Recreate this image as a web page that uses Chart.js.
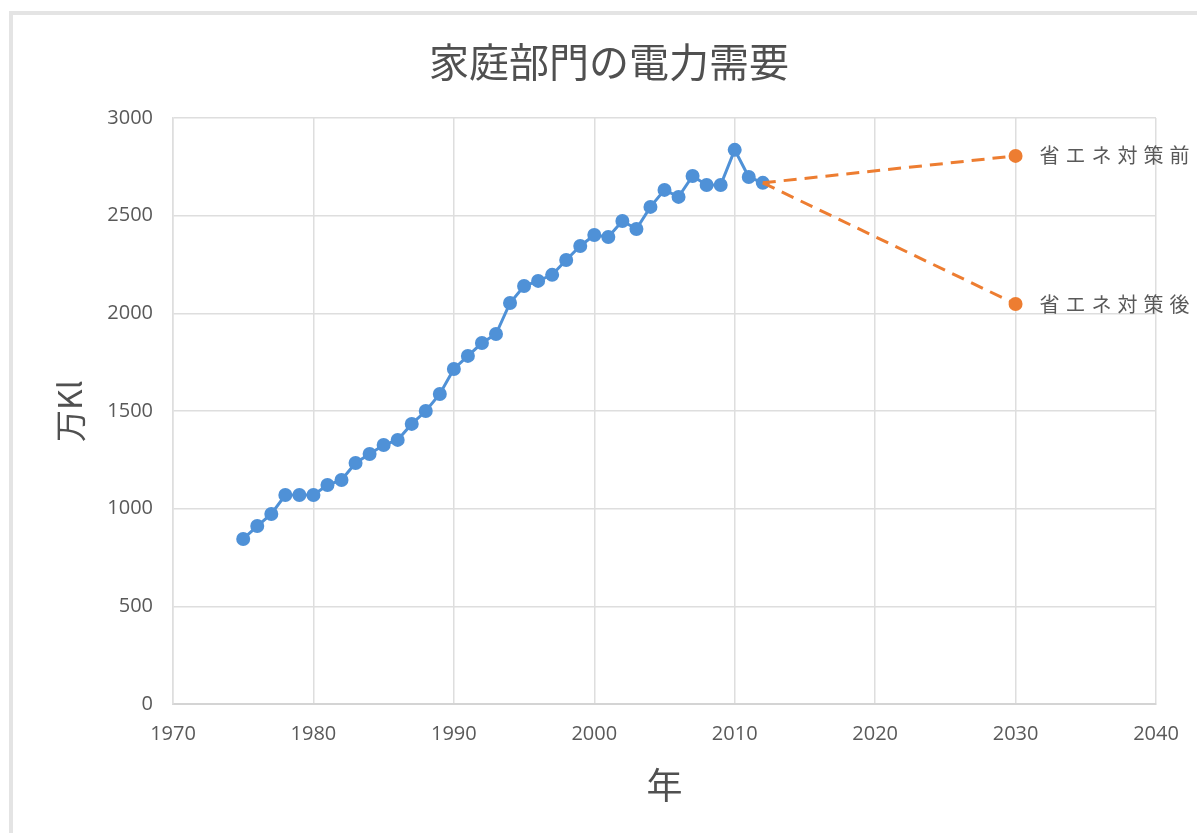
<!DOCTYPE html>
<html lang="ja">
<head>
<meta charset="utf-8">
<title>家庭部門の電力需要</title>
<script src="https://cdn.jsdelivr.net/npm/chart.js@4/dist/chart.umd.min.js"></script>
<style>
  html, body { margin: 0; padding: 0; background: #fff; overflow: hidden; }
  #frame {
    position: absolute; left: 9px; top: 11px; width: 1200px; height: 840px;
    border-top: 4px solid #e4e4e4; border-left: 4px solid #e4e4e4;
  }
  #demandChart { position: absolute; left: 0; top: 0; }
</style>
</head>
<body>
<div id="frame"></div>
<canvas id="demandChart" width="1197" height="833"></canvas>
<script>
// --- Data ---
const years = [1975, 1976, 1977, 1978, 1979, 1980, 1981, 1982, 1983, 1984,
               1985, 1986, 1987, 1988, 1989, 1990, 1991, 1992, 1993, 1994,
               1995, 1996, 1997, 1998, 1999, 2000, 2001, 2002, 2003, 2004,
               2005, 2006, 2007, 2008, 2009, 2010, 2011, 2012];
const demand = [845, 911, 973, 1070, 1070, 1070, 1121, 1147, 1234, 1280,
                1326, 1352, 1434, 1500, 1587, 1715, 1782, 1848, 1894, 2053,
                2140, 2166, 2197, 2273, 2345, 2401, 2391, 2473, 2432, 2545,
                2632, 2596, 2703, 2657, 2657, 2837, 2698, 2668];

const forecastYears = [2012, 2030];
const beforeSaving = [2668, 2806];   // 省エネ対策前
const afterSaving = [2668, 2048];    // 省エネ対策後
const forecastLabels = ['省エネ対策前', '省エネ対策後'];

const xTicks = [1970, 1980, 1990, 2000, 2010, 2020, 2030, 2040];
const yTicks = [0, 500, 1000, 1500, 2000, 2500, 3000];

const textColor = '#595959';
const gridColor = '#dedede';
const blue = '#4f91d7';
const orange = '#ed7d31';

const toPoints = (xs, ys) => xs.map((x, i) => ({ x: x, y: ys[i] }));

// labels drawn to the right of the 2030 points
const endLabels = {
    id: 'endLabels',
    afterDatasetsDraw(chart) {
        const ctx = chart.ctx;
        ctx.save();
        ctx.font = '20px "Noto Sans CJK JP"';
        ctx.fillStyle = textColor;
        ctx.textAlign = 'left';
        ctx.textBaseline = 'middle';
        ctx.letterSpacing = '6px';
        chart.data.datasets.forEach((ds, i) => {
            if (!ds.endLabel) return;
            const meta = chart.getDatasetMeta(i);
            const pt = meta.data[meta.data.length - 1];
            ctx.fillText(ds.endLabel, pt.x + 24, pt.y);
        });
        ctx.restore();
    }
};

const ctx = document.getElementById('demandChart').getContext('2d');

new Chart(ctx, {
    type: 'line',
    data: {
        datasets: [
            {
                label: '家庭部門',
                data: toPoints(years, demand),
                borderColor: blue,
                backgroundColor: blue,
                borderWidth: 3,
                pointRadius: 7,
                pointBorderWidth: 0,
                tension: 0,
                order: 2
            },
            {
                label: forecastLabels[0],
                endLabel: forecastLabels[0],
                data: toPoints(forecastYears, beforeSaving),
                borderColor: orange,
                backgroundColor: orange,
                borderWidth: 3,
                borderDash: [13, 8],
                pointRadius: [0, 7],
                pointBorderWidth: 0,
                order: 1
            },
            {
                label: forecastLabels[1],
                endLabel: forecastLabels[1],
                data: toPoints(forecastYears, afterSaving),
                borderColor: orange,
                backgroundColor: orange,
                borderWidth: 3,
                borderDash: [13, 8],
                pointRadius: [0, 7],
                pointBorderWidth: 0,
                order: 1
            }
        ]
    },
    options: {
        responsive: false,
        animation: false,
        layout: { padding: { left: 62, right: 41, top: 0, bottom: 0 } },
        plugins: {
            legend: { display: false },
            tooltip: { enabled: false },
            title: {
                display: true,
                text: '家庭部門の電力需要',
                color: '#505050',
                font: { family: '"Noto Sans CJK JP"', size: 40, weight: 'normal' },
                padding: { top: 38, bottom: 32 }
            }
        },
        scales: {
            x: {
                type: 'linear',
                min: 1970,
                max: 2040,
                afterBuildTicks: (scale) => { scale.ticks = xTicks.map(v => ({ value: v })); },
                afterFit: (scale) => { scale.height = 129; },
                grid: { color: gridColor, lineWidth: 1.5, drawTicks: false },
                border: { color: '#d4d4d4', width: 2 },
                ticks: {
                    color: textColor,
                    padding: 18,
                    font: { family: '"Open Sans"', size: 20 },
                    callback: (v) => String(v)
                },
                title: {
                    display: true,
                    text: '年',
                    color: '#505050',
                    font: { family: '"Noto Sans CJK JP"', size: 36 },
                    padding: { top: 0, bottom: 26 }
                }
            },
            y: {
                min: 0,
                max: 3000,
                afterBuildTicks: (scale) => { scale.ticks = yTicks.map(v => ({ value: v })); },
                afterFit: (scale) => { scale.width = 111; },
                grid: { color: gridColor, lineWidth: 1.5, drawTicks: false },
                border: { color: gridColor, width: 1.5 },
                ticks: {
                    color: textColor,
                    padding: 20,
                    font: { family: '"Open Sans"', size: 20 },
                    callback: (v) => String(v)
                },
                title: {
                    display: true,
                    text: '万Kl',
                    color: '#505050',
                    font: { family: '"Noto Sans CJK JP"', size: 32 },
                    padding: { top: -11, bottom: 0 }
                }
            }
        }
    },
    plugins: [endLabels]
});
</script>
</body>
</html>
